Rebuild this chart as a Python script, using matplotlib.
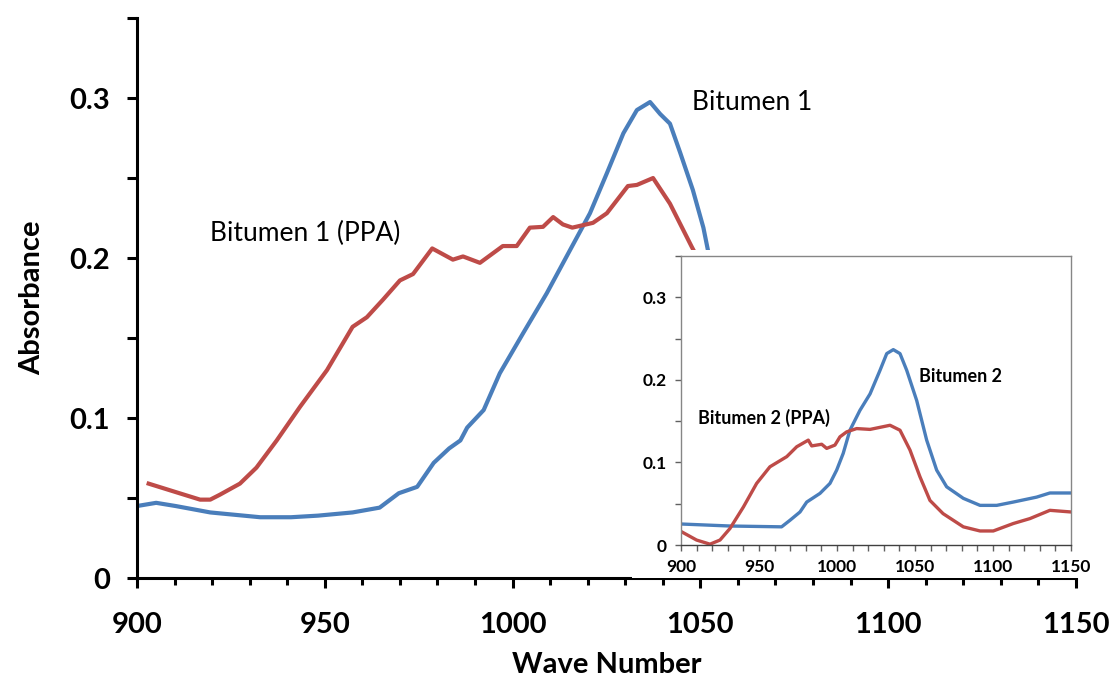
import numpy as np
import matplotlib
matplotlib.use("Agg")
import matplotlib.pyplot as plt
from matplotlib.patches import Rectangle
from matplotlib.ticker import MultipleLocator

plt.rcParams['font.family'] = ['Lato', 'DejaVu Sans']

blue = '#4a7ebb'
red = '#be4b48'

# main plot - Bitumen 1
x_b1 = [900, 905.1, 910.3, 919.5, 932.8, 941.0, 948.2, 957.4, 964.6, 969.7, 974.6, 979.0, 983.1,
        986.1, 987.9, 992.3, 996.6, 1002.8, 1009.1, 1015.3, 1020.6, 1025.1, 1029.5, 1033.1, 1036.6,
        1039.3, 1041.9, 1044.6, 1048.0, 1050.8, 1052.0, 1054.9, 1058.0]
y_b1 = [0.045, 0.047, 0.045, 0.041, 0.038, 0.038, 0.039, 0.041, 0.044, 0.053, 0.057, 0.072, 0.081,
        0.086, 0.094, 0.105, 0.128, 0.153, 0.178, 0.205, 0.228, 0.253, 0.278, 0.2925, 0.2975, 0.29,
        0.284, 0.266, 0.2425, 0.219, 0.205, 0.18, 0.15]

# main plot - Bitumen 1 (PPA)
x_b1p = [903.1, 911.3, 916.8, 919.5, 922.0, 927.4, 931.8, 937.2, 943.4, 950.6, 957.4, 961.2, 965.5,
         970.0, 973.5, 978.6, 984.1, 986.8, 991.3, 997.4, 1001.1, 1004.6, 1008.1, 1010.8, 1013.4,
         1015.9, 1021.4, 1025.1, 1030.7, 1033.1, 1037.4, 1041.9, 1047.7, 1053.8]
y_b1p = [0.059, 0.053, 0.049, 0.049, 0.052, 0.059, 0.069, 0.086, 0.107, 0.13, 0.157, 0.163, 0.174,
         0.186, 0.19, 0.206, 0.199, 0.201, 0.197, 0.2075, 0.2075, 0.219, 0.2195, 0.2256, 0.221, 0.219,
         0.222, 0.228, 0.245, 0.2457, 0.25, 0.234, 0.207, 0.18]

# inset - Bitumen 2
x_b2 = [900.4, 931.4, 964.5, 969.9, 976.3, 980.6, 989.1, 995.5, 999.8, 1004, 1008.3, 1014.7, 1021.2,
        1027.6, 1031.9, 1036.1, 1040.4, 1044.7, 1051.1, 1057.5, 1063.9, 1070.3, 1081, 1091.7, 1102.4,
        1113, 1128, 1136.5, 1150]
y_b2 = [0.0254, 0.023, 0.022, 0.030, 0.040, 0.052, 0.0625, 0.0746, 0.0907, 0.111, 0.139, 0.163, 0.183,
        0.2116, 0.2318, 0.2366, 0.2318, 0.2116, 0.175, 0.127, 0.0907, 0.0705, 0.0565, 0.048, 0.048,
        0.052, 0.058, 0.063, 0.063]

# inset - Bitumen 2 (PPA)
x_b2p = [900.4, 910, 918.6, 925, 931.4, 940, 948.5, 957, 967.8, 974.2, 981.6, 983.8, 990.2, 993.4,
         998.7, 1001.9, 1006.2, 1012.6, 1021.2, 1034, 1040.4, 1046.8, 1053.2, 1059.6, 1068, 1081,
         1091.7, 1100.2, 1113, 1123.7, 1136.5, 1150]
y_b2p = [0.016, 0.006, 0.001, 0.006, 0.020, 0.046, 0.0746, 0.0947, 0.107, 0.119, 0.127, 0.12, 0.122,
         0.117, 0.121, 0.131, 0.137, 0.141, 0.14, 0.145, 0.139, 0.115, 0.0826, 0.054, 0.038, 0.022,
         0.017, 0.017, 0.026, 0.032, 0.042, 0.040]

fig = plt.figure(figsize=(11.12, 6.81), dpi=100)

######### main axes
ax = fig.add_axes([0.1232, 0.1512, 0.8444, 0.8223])
ax.plot(x_b1, y_b1, color=blue, lw=3)
ax.plot(x_b1p, y_b1p, color=red, lw=3)
ax.set_xlim(900, 1150)
ax.set_ylim(0, 0.35)
ax.spines['top'].set_visible(False)
ax.spines['right'].set_visible(False)
ax.spines['left'].set_linewidth(2.2)
ax.spines['bottom'].set_linewidth(2.2)
ax.xaxis.set_major_locator(MultipleLocator(50))
ax.xaxis.set_minor_locator(MultipleLocator(10))
ax.yaxis.set_minor_locator(MultipleLocator(0.05))
ax.set_yticks([0, 0.1, 0.2, 0.3])
ax.set_yticklabels(['0', '0.1', '0.2', '0.3'])
ax.tick_params(axis='both', which='major', length=7.5, width=2.2, labelsize=21, pad=12)
ax.tick_params(axis='x', which='major', pad=17)
ax.tick_params(axis='x', which='minor', length=5, width=2.2)
ax.tick_params(axis='y', which='minor', length=7.5, width=2.2)
for lab in ax.get_xticklabels() + ax.get_yticklabels():
    lab.set_fontweight('bold')
ax.set_xlabel('Wave Number', fontsize=21, fontweight='bold', labelpad=10)
ax.set_ylabel('Absorbance', fontsize=21, fontweight='bold', labelpad=17)
ax.text(919.4, 0.2156, 'Bitumen 1 (PPA)', fontsize=19, va='center', ha='left')
ax.text(1047.8, 0.297, 'Bitumen 1', fontsize=19, va='center', ha='left')

# white box under the inset
fig.add_artist(Rectangle((0.5683, 0.1512), 0.432, 0.482, transform=fig.transFigure,
                         facecolor='white', edgecolor='none', zorder=1))

######### inset
ins = fig.add_axes([0.6124, 0.1997, 0.3507, 0.4244])
ins.set_zorder(2)
ins.plot(x_b2, y_b2, color=blue, lw=2.4)
ins.plot(x_b2p, y_b2p, color=red, lw=2.4)
ins.set_xlim(900, 1150)
ins.set_ylim(0, 0.35)
for s in ins.spines.values():
    s.set_color('#868686')
    s.set_linewidth(1)
ins.spines['bottom'].set_color('#404040')
ins.xaxis.set_major_locator(MultipleLocator(50))
ins.xaxis.set_minor_locator(MultipleLocator(10))
ins.yaxis.set_minor_locator(MultipleLocator(0.05))
ins.set_yticks([0, 0.1, 0.2, 0.3])
ins.set_yticklabels(['0', '0.1', '0.2', '0.3'])
ins.tick_params(axis='both', which='both', length=4, width=1, color='#606060', labelsize=12.5, pad=6)
for lab in ins.get_xticklabels() + ins.get_yticklabels():
    lab.set_fontweight('bold')
ins.text(1052.8, 0.2035, 'Bitumen 2', fontsize=13, fontweight='bold', va='center', ha='left')
ins.text(910.9, 0.1535, 'Bitumen 2 (PPA)', fontsize=13, fontweight='bold', va='center', ha='left')

plt.savefig('out.png', dpi=100)
